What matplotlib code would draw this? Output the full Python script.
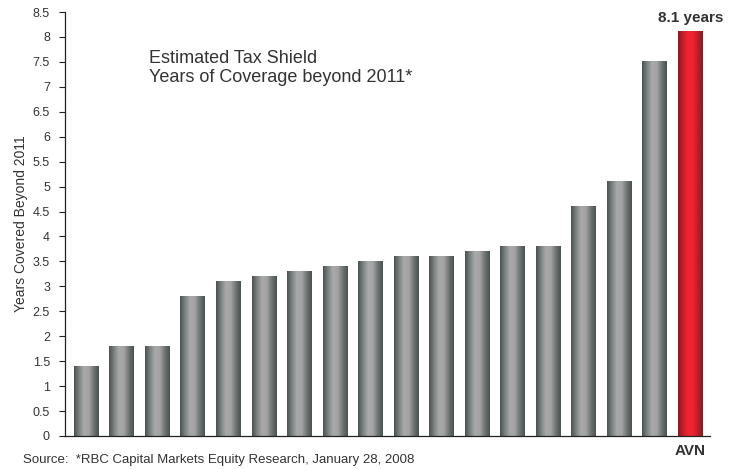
import numpy as np
import matplotlib.pyplot as plt
from matplotlib.colors import LinearSegmentedColormap

plt.rcParams['font.family'] = ['Liberation Sans', 'DejaVu Sans']

# Years of tax shield coverage beyond 2011, ascending, AVN last
values = [1.4, 1.8, 1.8, 2.8, 3.1, 3.2, 3.3, 3.4, 3.5, 3.6, 3.6, 3.7,
          3.8, 3.8, 4.6, 5.1, 7.5, 8.1]
labels = [''] * 17 + ['AVN']
highlight = 'AVN'
yticks = [0, 0.5, 1, 1.5, 2, 2.5, 3, 3.5, 4, 4.5, 5, 5.5, 6, 6.5, 7, 7.5, 8, 8.5]

grey_cm = LinearSegmentedColormap.from_list(
    'cyl_grey', ['#4a5251', '#7d8282', '#a9a9a9', '#a3a3a3', '#6f7474', '#4a5251'])
red_cm = LinearSegmentedColormap.from_list(
    'cyl_red', ['#7e1d22', '#c81e2a', '#f02433', '#ee2332', '#c01d28', '#7e1d22'])

fig = plt.figure(figsize=(7.38, 4.69), dpi=100)
ax = fig.add_axes([0.088, 0.0704, 0.874, 0.904])

x = np.arange(len(values))
width = 0.7
bars = ax.bar(x, values, width=width, color='none', edgecolor='none')

# shade each bar like a cylinder
grad = np.linspace(0, 1, 64).reshape(1, -1)
for bar, lab in zip(bars, labels):
    cm = red_cm if lab == highlight else grey_cm
    x0 = bar.get_x()
    ax.imshow(grad, cmap=cm, aspect='auto', interpolation='bilinear',
              extent=[x0, x0 + bar.get_width(), 0, bar.get_height()], zorder=2)

ax.set_xlim(-0.6, 17.55)
ax.set_ylim(0, 8.5)
ax.set_yticks(yticks)
ax.set_yticklabels([f'{t:g}' for t in yticks])
ax.set_xticks([])
ax.tick_params(axis='y', direction='out', length=4.3, width=0.8, pad=6.5,
               labelsize=9, labelcolor='#333333', color='#222222')
for side in ['top', 'right']:
    ax.spines[side].set_visible(False)
for side in ['left', 'bottom']:
    ax.spines[side].set_color('#222222')
    ax.spines[side].set_linewidth(0.9)

ax.set_ylabel('Years Covered Beyond 2011', fontsize=10, color='#333333')
ax.yaxis.set_label_coords(-0.057, 0.5)

# highlighted bar annotations
hi = labels.index(highlight)
ax.text(x[hi], values[hi] + 0.13, f'{values[hi]:g} years', ha='center', va='bottom',
        fontsize=11, fontweight='bold', color='#333333')
ax.text(x[hi], -0.16, highlight, ha='center', va='top',
        fontsize=11, fontweight='bold', color='#333333')

ax.text(0.131, 0.91, 'Estimated Tax Shield\nYears of Coverage beyond 2011*',
        transform=ax.transAxes, ha='left', va='top', fontsize=13,
        color='#333333', linespacing=1.15)

fig.text(0.031, 0.02, 'Source:  *RBC Capital Markets Equity Research, January 28, 2008',
         ha='left', va='center', fontsize=9.5, color='#333333')

fig.savefig('out.png', dpi=100)
